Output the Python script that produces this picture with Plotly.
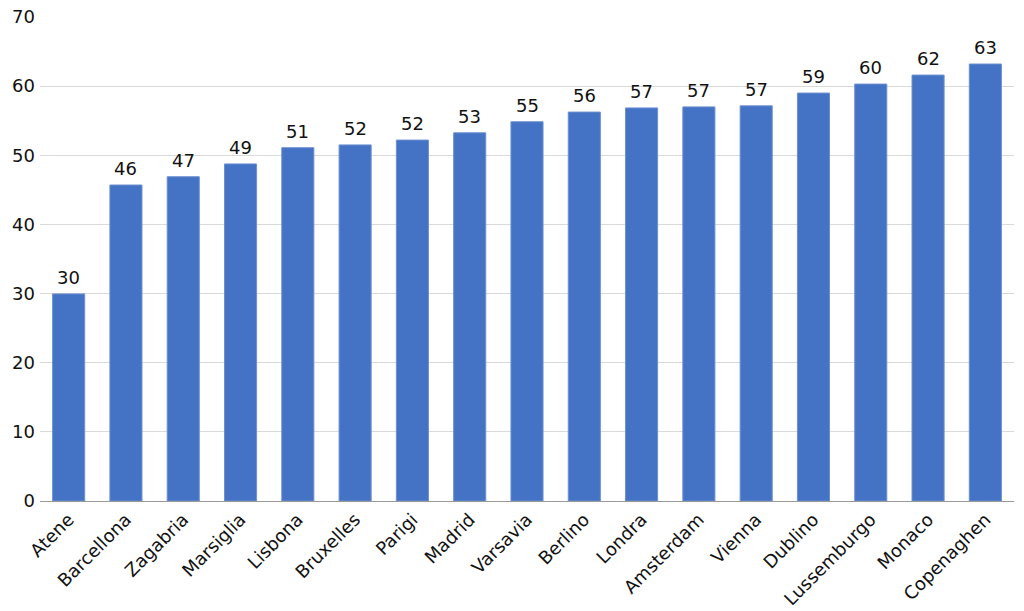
import plotly.graph_objects as go

cities = ["Atene", "Barcellona", "Zagabria", "Marsiglia", "Lisbona", "Bruxelles",
          "Parigi", "Madrid", "Varsavia", "Berlino", "Londra", "Amsterdam",
          "Vienna", "Dublino", "Lussemburgo", "Monaco", "Copenaghen"]
values = [29.95, 45.7, 46.9, 48.75, 51.1, 51.5, 52.2, 53.25, 54.85, 56.25,
          56.85, 57.0, 57.15, 59.0, 60.3, 61.6, 63.2]
y_ticks = [0, 10, 20, 30, 40, 50, 60, 70]

font_family = "DejaVu Sans"

fig = go.Figure(go.Bar(
    x=cities, y=values,
    marker=dict(color="#4472C4", line=dict(color="#6d90d0", width=1)),
))

for c, v in zip(cities, values):
    fig.add_annotation(x=c, y=v, text=f"{v:.0f}", showarrow=False,
                       yanchor="bottom", yshift=4,
                       font=dict(family=font_family, size=18, color="#111111"))

fig.update_layout(
    width=1024, height=611,
    margin=dict(l=40, r=10, t=17, b=110),
    paper_bgcolor="white", plot_bgcolor="white",
    bargap=0.44,
    showlegend=False,
    font=dict(family=font_family, size=18, color="#111111"),
)
fig.update_xaxes(tickangle=-45, showline=True, linecolor="#999999", linewidth=1,
                 ticks="", tickfont=dict(size=18), automargin=False)
fig.update_yaxes(range=[0, 70], tickvals=y_ticks, showgrid=True, gridcolor="#d9d9d9",
                 gridwidth=1, zeroline=False, ticks="", ticklabelstandoff=4,
                 tickfont=dict(size=18), automargin=False)

fig.write_html("out.html")
